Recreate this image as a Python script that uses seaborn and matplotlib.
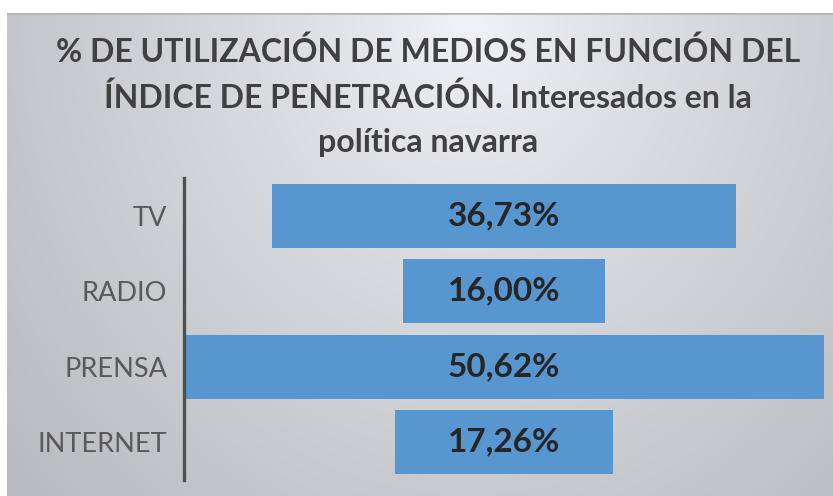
import numpy as np
import pandas as pd
import matplotlib.pyplot as plt
import seaborn as sns

# data
medios = ["TV", "RADIO", "PRENSA", "INTERNET"]
porcentajes = [36.73, 16.00, 50.62, 17.26]
etiquetas = ["36,73%", "16,00%", "50,62%", "17,26%"]

titulo = ("% DE UTILIZACIÓN DE MEDIOS EN FUNCIÓN DEL\n"
          "ÍNDICE DE PENETRACIÓN. Interesados en la\n"
          "política navarra")

sns.set_style("white")
plt.rcParams['font.family'] = ['Lato', 'DejaVu Sans']

df = pd.DataFrame({"medio": medios, "valor": porcentajes})

fig = plt.figure(figsize=(8.33, 4.96), dpi=100)
fig.patch.set_facecolor("white")

# gradient background panel
bg = fig.add_axes([7 / 833, 0, 1 - 7 / 833, (496 - 13) / 496])
u, v = np.meshgrid(np.linspace(0, 1, 300), np.linspace(0, 1, 200))
d = np.sqrt(((u - 0.56) / 0.5) ** 2 + (v / 1.0) ** 2)
b = 243 - 42 * d ** 0.8
img = np.dstack([b, b + 1, b + 4]).clip(0, 255) / 255
bg.imshow(img, aspect="auto", extent=[0, 1, 1, 0])
bg.axhline(0.0, color="#b4b5b8", lw=2)
bg.set_axis_off()

ax = fig.add_axes([184 / 833, 16 / 496, 1 - 184 / 833, (480 - 178) / 496])
ax.patch.set_alpha(0)
sns.barplot(data=df, x="valor", y="medio", orient="h", color="#5896cf",
            width=0.85, saturation=1, linewidth=0, edgecolor="none", ax=ax)

# centre each bar (funnel layout)
vmax = max(porcentajes)
for patch, val, lab in zip(ax.patches, porcentajes, etiquetas):
    patch.set_x((vmax - val) / 2)
    ax.text(vmax / 2, patch.get_y() + patch.get_height() / 2, lab,
            ha="center", va="center", fontsize=24, fontweight="bold",
            color="#262626")

ax.set_xlim(0, (833 - 184) / 12.64)
ax.set_ylim(3.5, -0.5)
ax.set_xlabel("")
ax.set_ylabel("")
ax.set_xticks([])
ax.tick_params(axis="y", length=0, pad=12, labelsize=19.5, labelcolor="#595959")
for s in ["top", "right", "bottom"]:
    ax.spines[s].set_visible(False)
ax.spines["left"].set_color("#505050")
ax.spines["left"].set_linewidth(2.4)

fig.text(428 / 833, 1 - 36 / 496, titulo, ha="center", va="top",
         fontsize=23, fontweight="bold", color="#404040", linespacing=1.62)

fig.savefig("out.png", dpi=100)
